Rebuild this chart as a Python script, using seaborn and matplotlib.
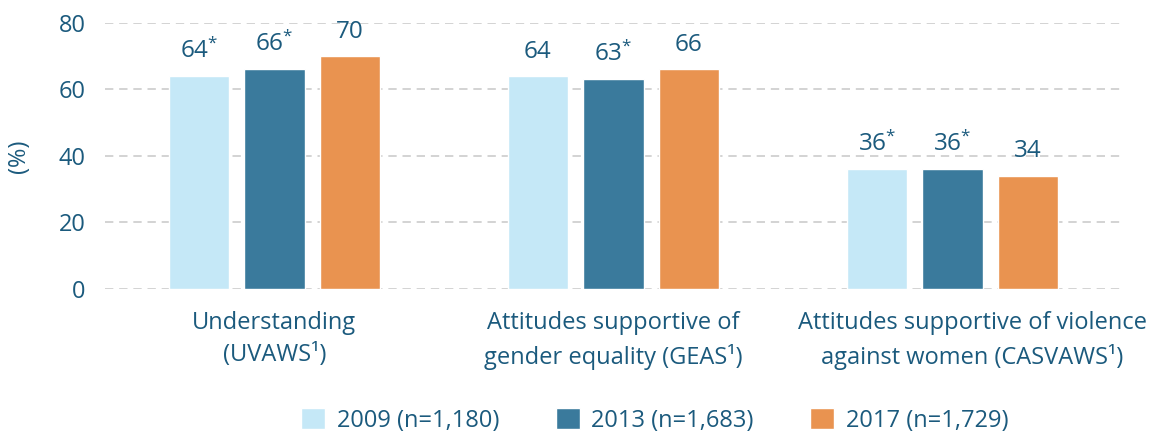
import seaborn as sns
import matplotlib.pyplot as plt
import matplotlib.transforms as mtransforms
import pandas as pd

categories = ["Understanding\n(UVAWS\u00b9)",
              "Attitudes supportive of\ngender equality (GEAS\u00b9)",
              "Attitudes supportive of violence\nagainst women (CASVAWS\u00b9)"]
years = ["2009 (n=1,180)", "2013 (n=1,683)", "2017 (n=1,729)"]
values_2009 = [64, 64, 36]
values_2013 = [66, 63, 36]
values_2017 = [70, 66, 34]
labels_2009 = ["64*", "64", "36*"]
labels_2013 = ["66*", "63*", "36*"]
labels_2017 = ["70", "66", "34"]
colors = ["#c5e8f7", "#3a7a9c", "#e99350"]
text_color = "#1b5a7d"

rows = []
for year, vals in zip(years, [values_2009, values_2013, values_2017]):
    for cat, v in zip(categories, vals):
        rows.append({"category": cat, "year": year, "value": v})
df = pd.DataFrame(rows)

sns.set_theme(style="white")
plt.rcParams['font.family'] = ['Open Sans', 'DejaVu Sans']
plt.rcParams['mathtext.fontset'] = 'custom'
plt.rcParams['mathtext.rm'] = 'Open Sans'
plt.rcParams['mathtext.it'] = 'Open Sans'

fig = plt.figure(figsize=(11.53, 4.32), dpi=100)
ax = fig.add_axes([0.091, 0.331, 0.882, 0.616])

sns.barplot(data=df, x="category", y="value", hue="year", palette=colors,
            width=0.668, gap=0.2, ax=ax, saturation=1, legend=True)

for cont, labs in zip(ax.containers, [labels_2009, labels_2013, labels_2017]):
    txt = [l.replace("*", "$^{*}$") for l in labs]
    ax.bar_label(cont, labels=txt, padding=9, fontsize=17.5, color=text_color, clip_on=False)

ax.set_ylim(0, 80)
ax.set_xlim(-0.5, 2.5)
ax.set_yticks([0, 20, 40, 60, 80])
ax.yaxis.grid(True, color="#cccccc", linestyle=(0, (5, 3.5)), linewidth=1.2)
ax.set_axisbelow(True)
for s in ax.spines.values():
    s.set_visible(False)
ax.tick_params(axis="y", length=0, pad=14, labelsize=17, labelcolor=text_color)
ax.tick_params(axis="x", length=0, pad=16, labelsize=17, labelcolor=text_color)
for t in ax.get_xticklabels():
    t.set_linespacing(1.45)
# last category label sits a bit right of its bars in the original
lab3 = ax.xaxis.get_major_ticks()[2].label1
lab3.set_transform(lab3.get_transform() + mtransforms.ScaledTranslation(0.2, 0, fig.dpi_scale_trans))
ax.set_xlabel("")
ax.set_ylabel("(%)", fontsize=17, color=text_color, labelpad=20)

ax.get_legend().remove()
handles, lbls = ax.get_legend_handles_labels()
fig.legend(handles, lbls, loc="center", bbox_to_anchor=(0.568, 0.027), ncol=3,
           frameon=False, fontsize=17, labelcolor=text_color, handlelength=1.0,
           handleheight=1.0, handletextpad=0.5, columnspacing=2.4)

fig.savefig("out.png", dpi=100)
